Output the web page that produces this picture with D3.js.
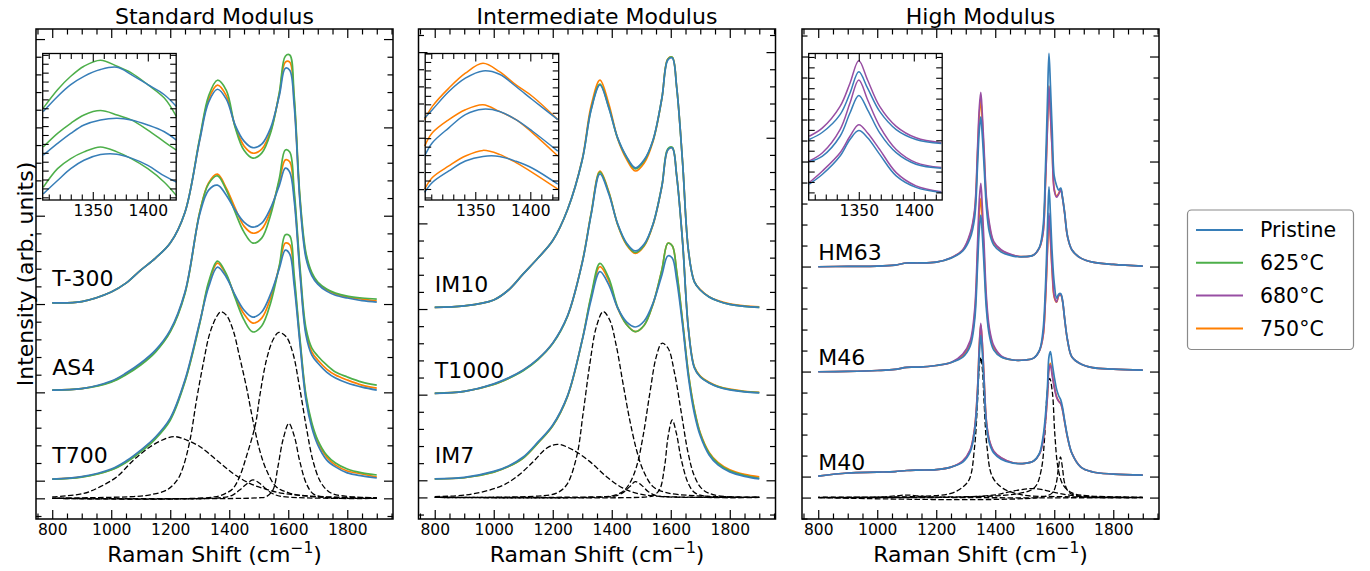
<!DOCTYPE html>
<html>
<head>
<meta charset="utf-8">
<script src="https://cdn.jsdelivr.net/npm/d3@7"></script>
<style>
  body { margin: 0; background: #fff; }
  svg { display: block; }
</style>
</head>
<body>
<script>
// ---- data (Raman shift in cm-1, intensity in arb. units, offsets included) ----
const legendLabels = ["Pristine", "625°C", "680°C", "750°C"]
const panelTitles = ["Standard Modulus", "Intermediate Modulus", "High Modulus"]

const ramanGrid = [800, 900, 1000, 1050, 1100, 1150, 1200, 1250, 1300, 1330, 1360, 1390, 1420, 1450, 1480,
  1510, 1540, 1570, 1590, 1605, 1620, 1640, 1660, 1680, 1700, 1730, 1760, 1800, 1850, 1900]
const hmGrid = [800, 900, 1000, 1060, 1100, 1140, 1200, 1250, 1290, 1315, 1330, 1340, 1346, 1351, 1356, 1362,
  1370, 1380, 1395, 1420, 1460, 1500, 1530, 1550, 1562, 1570, 1577, 1582, 1587, 1593, 1600, 1608, 1615, 1622,
  1628, 1635, 1645, 1660, 1690, 1730, 1800, 1900]

// Standard modulus
const t300Pristine = [11.07, 11.14, 11.68, 12.18, 12.92, 13.6, 14.45, 16.2, 20.28, 22.43, 23.16, 22.6, 21.13, 20.22, 19.85, 20.05, 20.96, 22.82, 24.35, 24.24, 22.26, 16.7, 13.6, 12.6, 12.13, 11.73, 11.5, 11.34, 11.19, 11.11]
const t300_625 = [11.07, 11.14, 11.68, 12.18, 12.92, 13.6, 14.45, 16.2, 20.4, 22.78, 23.67, 23.1, 21.0, 19.7, 19.26, 19.54, 20.68, 23.0, 25.03, 25.1, 22.8, 17.0, 13.9, 12.78, 12.24, 11.85, 11.62, 11.45, 11.34, 11.28]
const t300_750 = [11.07, 11.14, 11.68, 12.18, 12.92, 13.6, 14.45, 16.2, 20.33, 22.6, 23.39, 22.8, 21.07, 19.95, 19.54, 19.77, 20.79, 22.93, 24.7, 24.7, 22.54, 16.85, 13.75, 12.7, 12.19, 11.8, 11.57, 11.39, 11.28, 11.17]
const as4Pristine = [6.13, 6.21, 6.64, 7.09, 7.66, 8.39, 9.52, 11.68, 16.09, 17.45, 17.73, 17.16, 16.32, 15.64, 15.35, 15.58, 16.43, 17.73, 18.69, 18.47, 16.88, 12.64, 9.24, 8.11, 7.66, 7.15, 6.81, 6.53, 6.3, 6.13]
const as4_625 = [6.13, 6.21, 6.58, 7.0, 7.55, 8.28, 9.42, 11.6, 16.2, 17.8, 18.26, 17.45, 16.2, 15.07, 14.45, 14.73, 16.03, 18.14, 19.72, 19.6, 17.45, 13.05, 9.64, 8.51, 8.06, 7.55, 7.15, 6.87, 6.58, 6.41]
const as4_750 = [6.13, 6.21, 6.6, 7.04, 7.6, 8.33, 9.46, 11.64, 16.2, 17.86, 18.35, 17.56, 16.43, 15.41, 15.01, 15.24, 16.26, 17.97, 19.16, 19.05, 17.16, 12.82, 9.42, 8.28, 7.83, 7.32, 6.98, 6.7, 6.41, 6.24]
const t700Pristine = [1.09, 1.23, 1.66, 2.11, 2.73, 3.47, 4.54, 6.71, 9.98, 11.96, 13.09, 12.52, 11.5, 10.66, 10.26, 10.55, 11.56, 13.03, 14.05, 13.83, 12.07, 8.68, 5.56, 3.99, 3.03, 2.18, 1.78, 1.44, 1.27, 1.15]
const t700_625 = [1.09, 1.2, 1.6, 2.03, 2.63, 3.37, 4.42, 6.6, 9.9, 12.24, 13.43, 12.7, 11.34, 10.1, 9.42, 9.76, 11.05, 13.2, 14.92, 14.86, 12.65, 8.97, 5.85, 4.27, 3.3, 2.45, 2.0, 1.66, 1.44, 1.32]
const t700_750 = [1.09, 1.21, 1.62, 2.06, 2.68, 3.42, 4.48, 6.65, 9.94, 12.13, 13.32, 12.64, 11.43, 10.43, 9.92, 10.2, 11.34, 13.15, 14.45, 14.35, 12.37, 8.86, 5.74, 4.15, 3.19, 2.34, 1.88, 1.55, 1.38, 1.2]

// Intermediate modulus
const im10Pristine = [11.1, 11.18, 11.53, 12.11, 13.05, 13.98, 15.0, 16.8, 19.7, 22.62, 24.08, 22.74, 20.99, 19.9, 19.24, 19.71, 20.87, 23.32, 25.54, 25.66, 23.96, 19.58, 14.39, 12.58, 12.11, 11.7, 11.47, 11.27, 11.15, 11.1]
const im10_625 = [11.1, 11.18, 11.53, 12.11, 13.05, 13.98, 15.0, 16.8, 19.7, 22.66, 24.14, 22.78, 20.97, 19.86, 19.18, 19.66, 20.85, 23.32, 25.58, 25.7, 23.96, 19.58, 14.39, 12.58, 12.11, 11.7, 11.47, 11.27, 11.15, 11.1]
const im10_750 = [11.1, 11.18, 11.53, 12.11, 13.05, 13.98, 15.0, 16.8, 19.75, 22.85, 24.37, 22.97, 20.95, 19.76, 19.06, 19.53, 20.8, 23.3, 25.6, 25.7, 23.96, 19.6, 14.4, 12.6, 12.13, 11.72, 11.49, 11.3, 11.18, 11.12]
const t1000Pristine = [6.08, 6.19, 6.63, 6.98, 7.44, 8.09, 9.02, 10.6, 13.7, 16.5, 18.89, 17.72, 15.97, 14.86, 14.39, 14.8, 15.97, 18.18, 20.29, 20.4, 18.77, 14.92, 9.78, 7.56, 7.03, 6.68, 6.45, 6.28, 6.16, 6.1]
const t1000_625 = [6.08, 6.19, 6.6, 6.95, 7.4, 8.05, 8.98, 10.57, 13.72, 16.55, 19.0, 17.8, 15.95, 14.8, 14.3, 14.72, 15.95, 18.2, 20.35, 20.45, 18.8, 14.95, 9.82, 7.6, 7.06, 6.7, 6.47, 6.3, 6.18, 6.12]
const t1000_750 = [6.08, 6.19, 6.6, 6.95, 7.42, 8.06, 9.0, 10.58, 13.74, 16.58, 19.05, 17.85, 15.92, 14.75, 14.25, 14.68, 15.92, 18.18, 20.3, 20.42, 18.8, 14.95, 9.84, 7.62, 7.08, 6.72, 6.49, 6.32, 6.2, 6.14]
const im7Pristine = [1.08, 1.17, 1.52, 1.84, 2.36, 3.24, 4.23, 5.93, 9.19, 11.53, 13.18, 12.41, 11.06, 10.25, 9.95, 10.3, 11.35, 12.99, 14.1, 13.98, 12.7, 10.07, 7.0, 4.9, 3.6, 2.48, 1.9, 1.49, 1.23, 1.08]
const im7_625 = [1.08, 1.15, 1.48, 1.8, 2.3, 3.18, 4.18, 5.9, 9.2, 11.8, 13.67, 12.8, 11.1, 10.1, 9.68, 10.05, 11.3, 13.3, 14.84, 14.7, 13.2, 10.3, 7.2, 5.1, 3.72, 2.58, 1.98, 1.55, 1.28, 1.12]
const im7_750 = [1.08, 1.15, 1.48, 1.8, 2.3, 3.18, 4.18, 5.9, 9.2, 11.7, 13.47, 12.65, 11.05, 10.1, 9.68, 10.05, 11.3, 13.3, 14.84, 14.7, 13.2, 10.3, 7.22, 5.15, 3.77, 2.63, 2.05, 1.62, 1.35, 1.2]

// High modulus
const hm63Pristine = [10.99, 11.01, 11.02, 11.07, 11.17, 11.17, 11.21, 11.4, 11.74, 12.36, 13.31, 15.83, 17.5, 18.13, 17.26, 15.83, 13.83, 12.64, 12.02, 11.69, 11.5, 11.47, 11.55, 11.93, 12.88, 15.6, 18.93, 21.15, 19.64, 17.5, 15.3, 14.85, 14.64, 14.74, 14.3, 13.6, 12.45, 11.79, 11.4, 11.21, 11.1, 11.02]
const hm63_680 = [10.99, 11.01, 11.02, 11.07, 11.17, 11.17, 11.21, 11.42, 11.8, 12.58, 13.69, 16.62, 18.56, 19.29, 18.28, 16.62, 14.29, 13.07, 12.19, 11.8, 11.55, 11.47, 11.55, 11.9, 12.59, 14.88, 17.69, 19.57, 18.29, 16.49, 14.63, 14.3, 14.45, 14.65, 14.25, 13.55, 12.42, 11.79, 11.4, 11.21, 11.1, 11.02]
const hm63_750 = [10.99, 11.01, 11.02, 11.07, 11.17, 11.17, 11.21, 11.41, 11.78, 12.51, 13.57, 16.37, 18.23, 18.93, 17.96, 16.37, 14.15, 12.94, 12.13, 11.77, 11.53, 11.47, 11.55, 11.9, 12.62, 14.95, 17.75, 19.6, 18.35, 16.55, 14.68, 14.35, 14.48, 14.68, 14.27, 13.57, 12.43, 11.79, 11.4, 11.21, 11.1, 11.02]
const m46Pristine = [5.99, 6.01, 6.05, 6.1, 6.2, 6.21, 6.29, 6.43, 6.69, 7.21, 8.41, 11.05, 12.79, 13.45, 12.55, 11.05, 8.96, 7.72, 7.02, 6.69, 6.55, 6.55, 6.64, 7.02, 7.98, 9.99, 12.88, 14.8, 13.5, 11.63, 10.2, 9.5, 9.69, 9.71, 9.4, 8.55, 7.5, 6.69, 6.36, 6.19, 6.12, 6.07]
const m46_680 = [5.99, 6.01, 6.05, 6.1, 6.2, 6.21, 6.29, 6.43, 6.83, 7.46, 8.9, 12.08, 14.18, 14.96, 13.88, 12.08, 9.56, 8.07, 7.23, 6.75, 6.55, 6.55, 6.64, 7.0, 7.7, 9.42, 11.9, 13.55, 12.43, 10.83, 9.6, 9.32, 9.62, 9.66, 9.36, 8.53, 7.49, 6.69, 6.36, 6.19, 6.12, 6.07]
const m46_750 = [5.99, 6.01, 6.05, 6.1, 6.2, 6.21, 6.29, 6.43, 6.76, 7.34, 8.67, 11.59, 13.52, 14.25, 13.25, 11.59, 9.28, 7.9, 7.13, 6.72, 6.55, 6.55, 6.64, 7.0, 7.66, 9.34, 11.76, 13.37, 12.28, 10.72, 9.52, 9.3, 9.6, 9.65, 9.35, 8.52, 7.48, 6.69, 6.36, 6.19, 6.12, 6.07]
const m40Pristine = [1.02, 1.17, 1.21, 1.24, 1.29, 1.31, 1.33, 1.45, 1.69, 2.17, 3.12, 4.88, 6.79, 7.74, 6.93, 5.36, 3.45, 2.6, 2.12, 1.83, 1.64, 1.63, 1.74, 2.12, 2.9, 3.9, 5.3, 6.7, 6.95, 6.4, 5.75, 5.15, 4.85, 4.65, 4.3, 3.69, 2.9, 2.1, 1.45, 1.22, 1.12, 1.07]
const m40_680 = [1.02, 1.17, 1.21, 1.24, 1.29, 1.31, 1.33, 1.45, 1.75, 2.27, 3.3, 5.2, 7.27, 8.3, 7.42, 5.72, 3.65, 2.73, 2.21, 1.9, 1.66, 1.63, 1.74, 2.08, 2.69, 3.59, 4.84, 6.08, 6.31, 5.82, 5.24, 4.77, 4.58, 4.47, 4.17, 3.62, 2.86, 2.1, 1.45, 1.22, 1.12, 1.07]
const m40_750 = [1.02, 1.17, 1.21, 1.24, 1.29, 1.31, 1.33, 1.45, 1.74, 2.25, 3.27, 5.15, 7.2, 8.21, 7.35, 5.67, 3.62, 2.71, 2.2, 1.89, 1.66, 1.63, 1.74, 2.08, 2.72, 3.63, 4.9, 6.16, 6.39, 5.89, 5.3, 4.8, 4.6, 4.48, 4.18, 3.62, 2.86, 2.1, 1.45, 1.22, 1.12, 1.07]

// fitted components (dashed), [x values, y values]
const smBand1 = [[800, 907, 963, 1019, 1076, 1132, 1188, 1218, 1256, 1301, 1357, 1413, 1469, 1526, 1582, 1694, 1900], [0.08, 0.28, 0.66, 1.22, 2.17, 2.92, 3.4, 3.49, 3.3, 2.92, 2.17, 1.41, 0.85, 0.51, 0.28, 0.11, 0.03]]
const smBandD = [[800, 1076, 1132, 1188, 1224, 1244, 1267, 1289, 1312, 1334, 1357, 1371, 1390, 1413, 1435, 1458, 1480, 1503, 1526, 1559, 1604, 1680, 1900], [0.01, 0.1, 0.2, 0.47, 1.04, 1.79, 3.3, 5.56, 7.64, 9.34, 10.28, 10.56, 10.37, 9.52, 8.01, 6.32, 4.43, 2.73, 1.6, 0.66, 0.3, 0.1, 0.02]]
const smBand3 = [[800, 1380, 1413, 1435, 1458, 1480, 1503, 1526, 1548, 1580, 1900], [0, 0.05, 0.2, 0.47, 0.8, 1.04, 0.85, 0.51, 0.26, 0.1, 0]]
const smBand4 = [[800, 1350, 1390, 1413, 1435, 1458, 1489, 1503, 1526, 1548, 1568, 1593, 1616, 1638, 1661, 1683, 1706, 1728, 1750, 1807, 1900], [0, 0.08, 0.3, 0.56, 1.22, 2.36, 4.2, 5.75, 7.83, 8.96, 9.39, 9.15, 8.2, 6.32, 4.05, 2.17, 1.04, 0.51, 0.26, 0.1, 0.03]]
const smBandG = [[800, 1500, 1526, 1548, 1565, 1582, 1602, 1621, 1638, 1661, 1683, 1720, 1900], [0, 0.03, 0.1, 0.47, 1.79, 3.3, 4.24, 3.49, 2.17, 0.85, 0.28, 0.06, 0]]

const imBand1 = [[800, 908, 1021, 1078, 1134, 1179, 1216, 1269, 1326, 1382, 1438, 1495, 1580, 1900], [0.05, 0.15, 0.63, 1.21, 2.09, 2.87, 3.1, 2.77, 2.09, 1.21, 0.54, 0.2, 0.05, 0]]
const imBandD = [[800, 1150, 1213, 1247, 1281, 1303, 1326, 1348, 1371, 1393, 1416, 1438, 1461, 1484, 1506, 1540, 1585, 1680, 1900], [0, 0.08, 0.25, 0.73, 2.38, 4.92, 7.83, 9.97, 10.85, 10.36, 8.8, 6.67, 4.52, 2.77, 1.6, 0.63, 0.28, 0.1, 0.01]]
const imBand3 = [[800, 1390, 1416, 1438, 1461, 1480, 1500, 1523, 1551, 1590, 1900], [0, 0.03, 0.1, 0.28, 0.63, 0.92, 0.73, 0.35, 0.1, 0.03, 0]]
const imBand4 = [[800, 1380, 1405, 1438, 1461, 1484, 1506, 1529, 1551, 1570, 1591, 1613, 1636, 1659, 1681, 1709, 1760, 1900], [0, 0.05, 0.1, 0.35, 0.83, 1.8, 3.56, 6.08, 8.22, 9.0, 8.71, 7.25, 4.92, 2.58, 1.21, 0.45, 0.1, 0.01]]
const imBandG = [[800, 1520, 1540, 1562, 1579, 1591, 1605, 1619, 1636, 1659, 1681, 1720, 1900], [0, 0.03, 0.1, 0.45, 1.8, 3.55, 4.52, 3.75, 2.19, 0.83, 0.28, 0.06, 0]]

const hmBandSmall = [[800, 1000, 1060, 1100, 1140, 1200, 1900], [0, 0.02, 0.08, 0.12, 0.08, 0.02, 0]]
const hmBandD = [[800, 1150, 1250, 1290, 1313, 1330, 1340, 1345, 1351, 1357, 1362, 1372, 1390, 1426, 1494, 1600, 1900], [0.02, 0.06, 0.2, 0.5, 0.9, 2.42, 4.6, 6.0, 6.68, 6.0, 4.6, 2.42, 1.0, 0.44, 0.12, 0.05, 0.01]]
const hmBandBroad = [[800, 1300, 1400, 1450, 1500, 1530, 1560, 1600, 1650, 1750, 1900], [0, 0.03, 0.13, 0.28, 0.4, 0.43, 0.38, 0.25, 0.12, 0.03, 0]]
const hmBandG = [[800, 1400, 1480, 1520, 1540, 1557, 1568, 1576, 1585, 1594, 1602, 1613, 1630, 1660, 1720, 1900], [0.01, 0.08, 0.2, 0.35, 0.6, 1.4, 3.0, 4.96, 5.68, 4.96, 3.0, 1.4, 0.6, 0.22, 0.08, 0.02]]
const hmBandD2 = [[800, 1560, 1595, 1607, 1614, 1621, 1628, 1635, 1650, 1690, 1900], [0, 0.03, 0.25, 0.7, 1.4, 1.94, 1.4, 0.7, 0.25, 0.05, 0]]

// insets: D band region
const smInsetGrid = [1305, 1318, 1330, 1342, 1357, 1372, 1385, 1400, 1415, 1426]
const smInsetTopA = [10.01, 12.08, 13.59, 14.72, 15.4, 14.72, 13.98, 12.65, 11.14, 9.06]
const smInsetTopP = [9.63, 11.33, 12.65, 13.59, 14.35, 14.6, 13.78, 12.65, 11.52, 10.19]
const smInsetMidA = [5.66, 7.18, 8.31, 9.25, 9.74, 9.25, 8.69, 7.55, 6.23, 5.29]
const smInsetMidP = [4.72, 6.05, 7.18, 8.12, 8.69, 8.88, 8.69, 8.12, 7.36, 6.42]
const smInsetLowA = [1.13, 3.22, 4.35, 5.1, 5.66, 5.1, 4.35, 3.22, 1.7, 0.19]
const smInsetLowP = [0.39, 1.89, 3.22, 4.16, 4.8, 4.85, 4.4, 3.59, 2.4, 1.7]

const imInsetGrid = [1304, 1311, 1326, 1341, 1357, 1372, 1387, 1402, 1425]
const imInsetTopA = [9.19, 10.75, 12.91, 14.67, 15.84, 14.85, 13.29, 11.92, 9.19]
const imInsetTopP = [9.39, 10.36, 12.51, 14.08, 14.94, 14.55, 13.1, 11.54, 9.19]
const imInsetMidA = [6.06, 7.63, 9.19, 10.36, 10.95, 10.16, 9.19, 7.63, 4.89]
const imInsetMidP = [4.89, 6.46, 8.22, 9.78, 10.42, 10.16, 9.19, 7.82, 5.47]
const imInsetLowA = [0.98, 2.36, 3.72, 4.89, 5.56, 5.09, 4.11, 2.94, 0.98]
const imInsetLowP = [0.6, 1.77, 3.13, 4.3, 4.85, 4.85, 4.27, 3.45, 1.57]

const hmInsetGrid = [1305, 1317, 1333, 1342, 1350, 1358, 1369, 1384, 1402, 1425]
const hmInsetTopA = [5.39, 6.19, 8.25, 10.48, 12.63, 10.79, 8.25, 6.34, 5.24, 4.76]
const hmInsetTopP = [5.08, 5.77, 7.46, 9.52, 11.58, 10.0, 7.77, 6.03, 5.08, 4.7]
const hmInsetMidA = [3.01, 3.81, 6.03, 8.57, 10.79, 8.89, 6.34, 4.12, 2.86, 2.38]
const hmInsetMidP = [2.95, 3.49, 5.39, 7.62, 9.3, 7.93, 5.71, 3.81, 2.7, 2.31]
const hmInsetLowA = [0.95, 2.06, 3.81, 5.39, 6.5, 5.71, 4.12, 1.9, 0.63, 0.06]
const hmInsetLowP = [0.79, 1.74, 3.49, 5.08, 5.93, 5.24, 3.65, 1.58, 0.48, 0.0]

const shiftTicks = [800, 1000, 1200, 1400, 1600, 1800]
const insetTicks = [1350, 1400]
const yMajorTicks = [0, 1, 6, 11, 16, 21, 26]

// ---- layout ----
const W = 1370, H = 571
const plotTop = 29, plotBottom = 519, panelW = 357
const font = "DejaVu Sans, Liberation Sans, sans-serif"
const colors = { "Pristine": "#377eb8", "625°C": "#4daf4a", "680°C": "#984ea3", "750°C": "#ff7f00" }
const fmt = d3.format("d")

const svg = d3.select("body").append("svg").attr("width", W).attr("height", H)

class SpectraPanel {
  constructor(opts) {
    Object.assign(this, opts)
    this.g = svg.append("g")
    this.createScale()
    this.drawBands()
    this.drawSpectra()
    this.createAxes()
    this.drawInset()
    this.drawText()
  }

  createScale() {
    this.scaleX = d3.scaleLinear().domain([745, 1955]).range([this.left, this.left + panelW])
    this.scaleY = d3.scaleLinear().domain(this.yDomain).range([plotBottom, plotTop])
    this.line = d3.line()
      .x(d => this.scaleX(d[0]))
      .y(d => this.scaleY(d[1]))
      .curve(d3.curveCatmullRom.alpha(0.5))
  }

  tickSet(axis, scale, values, size, translate) {
    this.g.append("g")
      .attr("transform", translate)
      .call(axis(scale).tickValues(values).tickSizeInner(-size).tickSizeOuter(0).tickFormat(() => ""))
      .call(a => a.select(".domain").remove())
      .selectAll("line").attr("stroke", "#000").attr("stroke-width", 1.2)
  }

  createAxes() {
    var x = this.scaleX, y = this.scaleY
    var minorX = d3.range(750, 1951, 50).filter(v => v % 200 !== 0)
    var dom = this.yDomain
    var majorY = yMajorTicks.filter(v => v >= dom[0] && v <= dom[1])
    var minorY = d3.range(Math.ceil(dom[0]), Math.floor(dom[1]) + 1).filter(v => !majorY.includes(v))

    var bottom = this.g.append("g")
      .attr("transform", "translate(0," + plotBottom + ")")
      .call(d3.axisBottom(x).tickValues(shiftTicks).tickFormat(fmt).tickSizeInner(-9).tickSizeOuter(0).tickPadding(5))
    bottom.select(".domain").remove()
    bottom.selectAll("line").attr("stroke-width", 1.2)
    bottom.selectAll("text").attr("font-size", 15.5).attr("font-family", font).attr("fill", "#000")

    this.tickSet(d3.axisBottom, x, minorX, 5.5, "translate(0," + plotBottom + ")")
    this.tickSet(d3.axisTop, x, shiftTicks, 9, "translate(0," + plotTop + ")")
    this.tickSet(d3.axisTop, x, minorX, 5.5, "translate(0," + plotTop + ")")
    this.tickSet(d3.axisLeft, y, majorY, 9, "translate(" + this.left + ",0)")
    this.tickSet(d3.axisLeft, y, minorY, 5.5, "translate(" + this.left + ",0)")
    this.tickSet(d3.axisRight, y, majorY, 9, "translate(" + (this.left + panelW) + ",0)")
    this.tickSet(d3.axisRight, y, minorY, 5.5, "translate(" + (this.left + panelW) + ",0)")

    this.g.append("rect")
      .attr("x", this.left).attr("y", plotTop)
      .attr("width", panelW).attr("height", plotBottom - plotTop)
      .attr("fill", "none").attr("stroke", "#000").attr("stroke-width", 1.5)
  }

  drawBands() {
    var that = this
    this.g.selectAll("path.band")
      .data(this.bands)
      .enter()
      .append("path")
      .attr("class", "band")
      .attr("d", b => that.line(d3.zip(b[0], b[1])))
      .attr("fill", "none")
      .attr("stroke", "#000")
      .attr("stroke-width", 1.3)
      .attr("stroke-dasharray", "5.5,2.4")
      .attr("stroke-dashoffset", (b, i) => i * 1.6)
  }

  drawSpectra() {
    var that = this
    var rows = []
    this.samples.forEach(s => {
      s.series.slice().reverse().forEach(k => rows.push({ key: k[0], values: k[1] }))
    })
    this.g.selectAll("path.spec")
      .data(rows)
      .enter()
      .append("path")
      .attr("class", "spec")
      .attr("d", r => that.line(d3.zip(that.grid, r.values)))
      .attr("fill", "none")
      .attr("stroke", r => colors[r.key])
      .attr("stroke-width", 1.7)
      .attr("stroke-linejoin", "round")
  }

  drawInset() {
    var ix = this.left + 6.7, iy = 53.5, iw = 133.5, ih = 146.5
    var sx = d3.scaleLinear().domain([1304.5, 1425.8]).range([ix, ix + iw])
    var sy = d3.scaleLinear().domain(this.inset.yDomain).range([iy + ih, iy])
    var ig = this.g.append("g")
    ig.append("rect").attr("x", ix).attr("y", iy).attr("width", iw).attr("height", ih).attr("fill", "#fff")

    var line = d3.line().x(d => sx(d[0])).y(d => sy(d[1])).curve(d3.curveCatmullRom.alpha(0.5))
    var grid = this.inset.grid
    ig.selectAll("path.ins")
      .data(this.inset.series)
      .enter()
      .append("path")
      .attr("d", r => line(d3.zip(grid, r[1])))
      .attr("fill", "none")
      .attr("stroke", r => colors[r[0]])
      .attr("stroke-width", 1.5)

    var minorX = d3.range(1310, 1421, 10).filter(v => v % 50 !== 0)
    var dom = this.inset.yDomain
    var ticksY = d3.range(Math.ceil(dom[0]), Math.floor(dom[1]) + 1)
    var tick = (axis, scale, vals, size, tr) => {
      ig.append("g").attr("transform", tr)
        .call(axis(scale).tickValues(vals).tickSizeInner(-size).tickSizeOuter(0).tickFormat(() => ""))
        .call(a => a.select(".domain").remove())
        .selectAll("line").attr("stroke-width", 1.1)
    }
    var lab = ig.append("g").attr("transform", "translate(0," + (iy + ih) + ")")
      .call(d3.axisBottom(sx).tickValues(insetTicks).tickFormat(fmt).tickSizeInner(-8).tickSizeOuter(0).tickPadding(5))
    lab.select(".domain").remove()
    lab.selectAll("line").attr("stroke-width", 1.1)
    lab.selectAll("text").attr("font-size", 15.5).attr("font-family", font).attr("fill", "#000")
    tick(d3.axisBottom, sx, minorX, 5.5, "translate(0," + (iy + ih) + ")")
    tick(d3.axisTop, sx, insetTicks, 8, "translate(0," + iy + ")")
    tick(d3.axisTop, sx, minorX, 5.5, "translate(0," + iy + ")")
    tick(d3.axisLeft, sy, ticksY, 6, "translate(" + ix + ",0)")
    tick(d3.axisRight, sy, ticksY, 6, "translate(" + (ix + iw) + ",0)")

    ig.append("rect").attr("x", ix).attr("y", iy).attr("width", iw).attr("height", ih)
      .attr("fill", "none").attr("stroke", "#000").attr("stroke-width", 1.3)
  }

  drawText() {
    var cx = this.left + panelW / 2
    this.g.append("text")
      .attr("x", cx).attr("y", 23.5)
      .attr("text-anchor", "middle").attr("font-family", font).attr("font-size", 22)
      .text(this.title)

    var xl = this.g.append("text")
      .attr("x", cx).attr("y", 561.5)
      .attr("text-anchor", "middle").attr("font-family", font).attr("font-size", 22)
    xl.append("tspan").text("Raman Shift (cm")
    xl.append("tspan").attr("dy", -9).attr("font-size", 15.5).text("\u22121")
    xl.append("tspan").attr("dy", 9).text(")")

    var that = this
    this.g.selectAll("text.sample")
      .data(this.samples)
      .enter()
      .append("text")
      .attr("x", this.scaleX(800))
      .attr("y", s => that.scaleY(s.labelY))
      .attr("font-family", font).attr("font-size", 22)
      .text(s => s.name)
  }
}

new SpectraPanel({
  title: panelTitles[0], left: 36, yDomain: [-1.17, 26.57], grid: ramanGrid,
  bands: [smBand1, smBandD, smBand3, smBand4, smBandG],
  samples: [
    { name: "T-300", labelY: 12, series: [["Pristine", t300Pristine], ["625°C", t300_625], ["750°C", t300_750]] },
    { name: "AS4", labelY: 7, series: [["Pristine", as4Pristine], ["625°C", as4_625], ["750°C", as4_750]] },
    { name: "T700", labelY: 2, series: [["Pristine", t700Pristine], ["625°C", t700_625], ["750°C", t700_750]] }
  ],
  inset: { grid: smInsetGrid, yDomain: [-0.3, 16.15], series: [
    ["625°C", smInsetTopA], ["Pristine", smInsetTopP], ["625°C", smInsetMidA],
    ["Pristine", smInsetMidP], ["625°C", smInsetLowA], ["Pristine", smInsetLowP]] }
})

new SpectraPanel({
  title: panelTitles[1], left: 418.5, yDomain: [-1.26, 27.35], grid: ramanGrid,
  bands: [imBand1, imBandD, imBand3, imBand4, imBandG],
  samples: [
    { name: "IM10", labelY: 12, series: [["Pristine", im10Pristine], ["625°C", im10_625], ["750°C", im10_750]] },
    { name: "T1000", labelY: 7, series: [["Pristine", t1000Pristine], ["625°C", t1000_625], ["750°C", t1000_750]] },
    { name: "IM7", labelY: 2, series: [["Pristine", im7Pristine], ["625°C", im7_625], ["750°C", im7_750]] }
  ],
  inset: { grid: imInsetGrid, yDomain: [-0.3, 17.0], series: [
    ["750°C", imInsetTopA], ["Pristine", imInsetTopP], ["750°C", imInsetMidA],
    ["Pristine", imInsetMidP], ["750°C", imInsetLowA], ["Pristine", imInsetLowP]] }
})

new SpectraPanel({
  title: panelTitles[2], left: 802, yDomain: [-1.02, 22.31], grid: hmGrid,
  bands: [hmBandSmall, hmBandBroad, hmBandD, hmBandG, hmBandD2],
  samples: [
    { name: "HM63", labelY: 11.33, series: [["Pristine", hm63Pristine], ["680°C", hm63_680], ["750°C", hm63_750]] },
    { name: "M46", labelY: 6.33, series: [["Pristine", m46Pristine], ["680°C", m46_680], ["750°C", m46_750]] },
    { name: "M40", labelY: 1.33, series: [["Pristine", m40Pristine], ["680°C", m40_680], ["750°C", m40_750]] }
  ],
  inset: { grid: hmInsetGrid, yDomain: [-0.73, 13.33], series: [
    ["680°C", hmInsetTopA], ["Pristine", hmInsetTopP], ["680°C", hmInsetMidA],
    ["Pristine", hmInsetMidP], ["680°C", hmInsetLowA], ["Pristine", hmInsetLowP]] }
})

// y label (first panel only)
svg.append("text")
  .attr("transform", "translate(33,274) rotate(-90)")
  .attr("text-anchor", "middle").attr("font-family", font).attr("font-size", 22)
  .text("Intensity (arb. units)")

// legend
var legend = svg.append("g")
legend.append("rect")
  .attr("x", 1187.5).attr("y", 210).attr("width", 166).attr("height", 139.5).attr("rx", 4)
  .attr("fill", "#fff").attr("stroke", "#8a8a8a").attr("stroke-width", 1.2)
legendLabels.forEach((name, i) => {
  var yy = 230 + i * 32.8
  legend.append("line")
    .attr("x1", 1196).attr("x2", 1243).attr("y1", yy).attr("y2", yy)
    .attr("stroke", colors[name]).attr("stroke-width", 2)
  legend.append("text")
    .attr("x", 1260).attr("y", yy).attr("dy", "0.36em")
    .attr("font-family", font).attr("font-size", 20.5)
    .text(name)
})
</script>
</body>
</html>
